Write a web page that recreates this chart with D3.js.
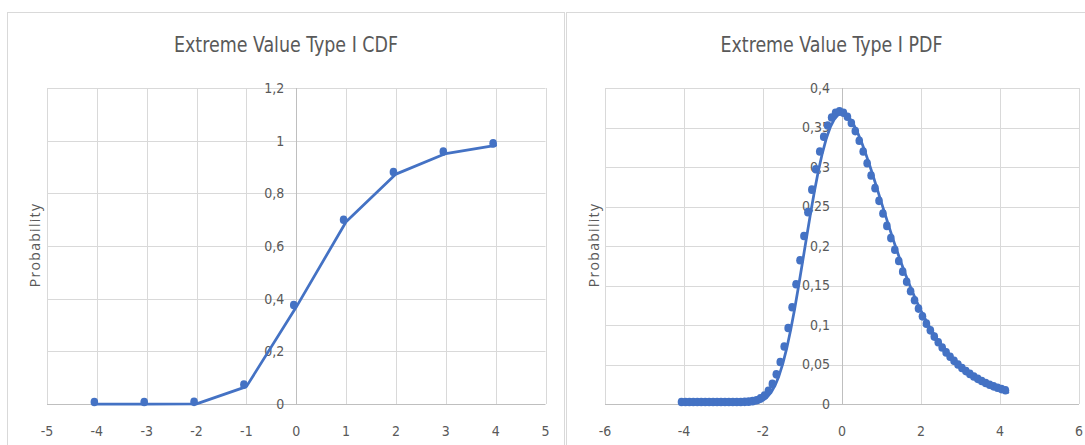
<!DOCTYPE html>
<html>
<head>
<meta charset="utf-8">
<script src="https://cdn.jsdelivr.net/npm/d3@7"></script>
<style>
  html, body { margin: 0; padding: 0; background: #fff; }
  svg { display: block; }
  .narrow { font-family: "Liberation Sans Narrow", "DejaVu Sans Condensed", "Arial Narrow", sans-serif; }
</style>
</head>
<body>
<svg id="chart" width="1085" height="445"></svg>
<script>
// ---------- data ----------
const cdfTitle = "Extreme Value Type I CDF";
const pdfTitle = "Extreme Value Type I PDF";
const yLabel = "Probability";

const cdfX = [-4, -3, -2, -1, 0, 1, 2, 3, 4];
const cdfY = [0, 0, 0.0006, 0.066, 0.368, 0.692, 0.873, 0.951, 0.982];

const pdfX = [
  -4.0, -3.9, -3.8, -3.7, -3.6, -3.5, -3.4, -3.3, -3.2, -3.1,
  -3.0, -2.9, -2.8, -2.7, -2.6, -2.5, -2.4, -2.3, -2.2, -2.1,
  -2.0, -1.9, -1.8, -1.7, -1.6, -1.5, -1.4, -1.3, -1.2, -1.1,
  -1.0, -0.9, -0.8, -0.7, -0.6, -0.5, -0.4, -0.3, -0.2, -0.1,
   0.0,  0.1,  0.2,  0.3,  0.4,  0.5,  0.6,  0.7,  0.8,  0.9,
   1.0,  1.1,  1.2,  1.3,  1.4,  1.5,  1.6,  1.7,  1.8,  1.9,
   2.0,  2.1,  2.2,  2.3,  2.4,  2.5,  2.6,  2.7,  2.8,  2.9,
   3.0,  3.1,  3.2,  3.3,  3.4,  3.5,  3.6,  3.7,  3.8,  3.9,
   4.0,  4.1,  4.2
];
const pdfY = [
  0, 0, 0, 0, 0, 0, 0, 0, 0, 0,
  0, 0, 0, 0, 0.00001, 0.00006, 0.00018, 0.00046, 0.0011, 0.0023,
  0.0046, 0.0083, 0.0143, 0.0229, 0.0350, 0.0507, 0.0703, 0.0936, 0.1200, 0.1490,
  0.1794, 0.2101, 0.2403, 0.2688, 0.2946, 0.3170, 0.3357, 0.3500, 0.3601, 0.3660,
  0.3679, 0.3661, 0.3611, 0.3532, 0.3429, 0.3307, 0.3170, 0.3022, 0.2867, 0.2707,
  0.2546, 0.2387, 0.2229, 0.2075, 0.1927, 0.1785, 0.1650, 0.1522, 0.1401, 0.1288,
  0.1182, 0.1084, 0.0992, 0.0907, 0.0828, 0.0756, 0.0690, 0.0628, 0.0572, 0.0521,
  0.0474, 0.0430, 0.0391, 0.0356, 0.0323, 0.0293, 0.0266, 0.0241, 0.0219, 0.0198,
  0.0180, 0.0163, 0.0148
];

const cdfXTicks = [-5, -4, -3, -2, -1, 0, 1, 2, 3, 4, 5];
const cdfYTicks = [0, 0.2, 0.4, 0.6, 0.8, 1, 1.2];
const pdfXTicks = [-6, -4, -2, 0, 2, 4, 6];
const pdfYTicks = [0, 0.05, 0.1, 0.15, 0.2, 0.25, 0.3, 0.35, 0.4];

// ---------- drawing ----------
const svg = d3.select("#chart");
svg.append("rect").attr("width", 1085).attr("height", 445).attr("fill", "#fff");

const BLUE = "#4472C4";
const GRID = "#d9d9d9";
const AXIS = "#bfbfbf";
const TEXT = "#595959";
const fmt = v => String(+v.toFixed(2)).replace(".", ",");

function panel(opt) {
  const g = svg.append("g");
  // chart frame
  g.append("rect")
    .attr("x", opt.frame[0]).attr("y", opt.frame[1])
    .attr("width", opt.frame[2]).attr("height", opt.frame[3])
    .attr("fill", "#fff").attr("stroke", GRID).attr("stroke-width", 1);

  const x = d3.scaleLinear().domain(opt.xDomain).range(opt.xRange);
  const y = d3.scaleLinear().domain(opt.yDomain).range(opt.yRange);

  // gridlines
  g.append("g").selectAll("line").data(opt.xTicks.filter(t => t !== 0)).join("line")
    .attr("x1", d => Math.round(x(d)) + 0.5).attr("x2", d => Math.round(x(d)) + 0.5)
    .attr("y1", y.range()[0]).attr("y2", y.range()[1])
    .attr("stroke", GRID).attr("stroke-width", 1);
  g.append("g").selectAll("line").data(opt.yTicks.filter(t => t !== 0)).join("line")
    .attr("y1", d => Math.round(y(d)) + 0.5).attr("y2", d => Math.round(y(d)) + 0.5)
    .attr("x1", x.range()[0]).attr("x2", x.range()[1])
    .attr("stroke", GRID).attr("stroke-width", 1);

  // axis lines (crossing at 0)
  g.append("line")
    .attr("x1", x.range()[0]).attr("x2", x.range()[1])
    .attr("y1", Math.round(y(0)) + 0.5).attr("y2", Math.round(y(0)) + 0.5)
    .attr("stroke", AXIS).attr("stroke-width", 1);
  g.append("line")
    .attr("x1", Math.round(x(0)) + 0.5).attr("x2", Math.round(x(0)) + 0.5)
    .attr("y1", y.range()[0]).attr("y2", y.range()[1])
    .attr("stroke", AXIS).attr("stroke-width", 1);

  // x tick labels
  g.append("g").selectAll("text").data(opt.xTicks).join("text")
    .attr("class", "narrow")
    .attr("x", d => x(d)).attr("y", opt.xLabelY)
    .attr("text-anchor", "middle")
    .attr("font-size", 14).attr("fill", TEXT)
    .text(d => fmt(d));

  // y tick labels (next to the vertical axis at x = 0)
  g.append("g").selectAll("text").data(opt.yTicks).join("text")
    .attr("class", "narrow")
    .attr("x", x(0) - 12).attr("y", d => y(d))
    .attr("dy", "0.35em")
    .attr("text-anchor", "end")
    .attr("font-size", 14).attr("fill", TEXT)
    .text(d => fmt(d));

  // title
  g.append("text")
    .attr("class", "narrow")
    .attr("x", opt.frame[0] + opt.frame[2] / 2).attr("y", 52)
    .attr("text-anchor", "middle")
    .attr("font-size", 22).attr("fill", TEXT)
    .attr("textLength", opt.titleLen).attr("lengthAdjust", "spacingAndGlyphs")
    .text(opt.title);

  // y axis title
  g.append("text")
    .attr("transform", `translate(${opt.yTitleX},245) rotate(-90)`)
    .attr("text-anchor", "middle")
    .attr("font-family", "'Open Sans', 'Noto Sans', sans-serif")
    .attr("font-size", 14).attr("letter-spacing", 1.3)
    .attr("fill", TEXT)
    .text(yLabel);

  // series line
  const pts = opt.xs.map((v, i) => [v, opt.ys[i]]);
  const line = d3.line().x(d => x(d[0])).y(d => y(d[1]));
  g.append("path").datum(pts)
    .attr("d", line)
    .attr("fill", "none").attr("stroke", BLUE)
    .attr("stroke-width", 2.75).attr("stroke-linejoin", "round").attr("stroke-linecap", "round");

  // markers
  g.append("g").attr("transform", "translate(-2.5,-2)")
    .selectAll("ellipse").data(pts).join("ellipse")
    .attr("cx", d => x(d[0])).attr("cy", d => y(d[1]))
    .attr("rx", 3.8).attr("ry", 4.3)
    .attr("fill", BLUE);
}

panel({
  frame: [7.5, 12.5, 557, 440],
  xDomain: [-5, 5], xRange: [47, 545.5],
  yDomain: [0, 1.2], yRange: [404, 88],
  xTicks: cdfXTicks, yTicks: cdfYTicks,
  xs: cdfX, ys: cdfY,
  title: cdfTitle, titleLen: 224, yTitleX: 40, xLabelY: 436
});

panel({
  frame: [566.5, 12.5, 530, 440],
  xDomain: [-6, 6], xRange: [605, 1079],
  yDomain: [0, 0.4], yRange: [404, 88],
  xTicks: pdfXTicks, yTicks: pdfYTicks,
  xs: pdfX, ys: pdfY,
  title: pdfTitle, titleLen: 222, yTitleX: 599, xLabelY: 436
});
</script>
</body>
</html>
